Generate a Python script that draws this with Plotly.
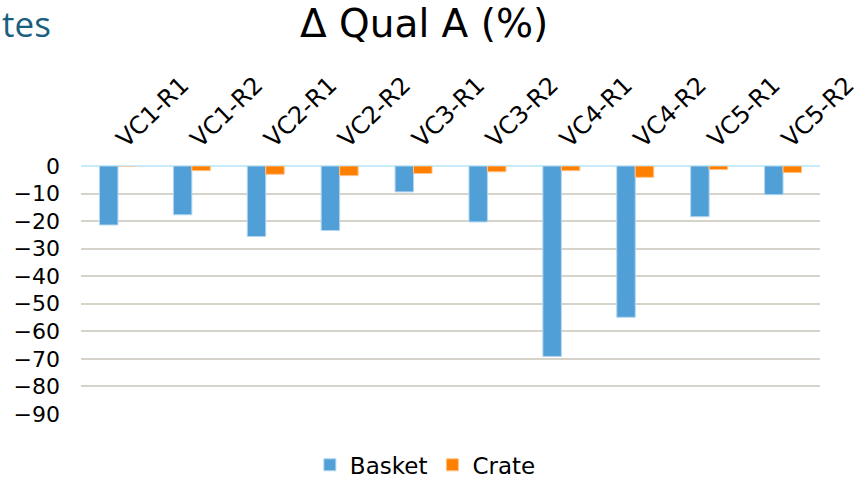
import plotly.graph_objects as go

# Trial labels and change in quality A (%) by storage type
categories = ["VC1-R1", "VC1-R2", "VC2-R1", "VC2-R2", "VC3-R1",
              "VC3-R2", "VC4-R1", "VC4-R2", "VC5-R1", "VC5-R2"]
basket = [-21.4, -17.7, -25.6, -23.4, -9.4, -20.3, -69.1, -54.9, -18.4, -10.4]
crate = [0.0, -1.7, -3.0, -3.5, -2.7, -2.1, -1.7, -4.1, -1.3, -2.4]
y_ticks = [0, -10, -20, -30, -40, -50, -60, -70, -80, -90]

BLUE = "#519fd7"
ORANGE = "#ff7f00"
FONT = "DejaVu Sans"

fig = go.Figure()
fig.add_trace(go.Bar(
    name="Basket", x=categories, y=basket,
    marker=dict(color=BLUE, line=dict(color="#b3d6f0", width=1)),
))
fig.add_trace(go.Bar(
    name="Crate", x=categories, y=crate,
    marker=dict(color=ORANGE, line=dict(color="#ffc48a", width=1)),
))

fig.update_layout(
    width=864, height=478,
    margin=dict(l=81, r=44, t=166, b=64, autoexpand=False),
    paper_bgcolor="white", plot_bgcolor="white",
    barmode="group", bargap=0.5, bargroupgap=0,
    font=dict(family=FONT, size=22, color="#000000"),
    showlegend=True,
    legend=dict(
        orientation="h", xref="paper", x=0.466, xanchor="center",
        y=-0.205, yanchor="middle", font=dict(size=23, family=FONT),
        itemwidth=30, traceorder="normal", tracegroupgap=0,
    ),
    xaxis=dict(
        type="category", side="top", tickangle=-44,
        showgrid=False, showline=False, ticks="",
        tickfont=dict(size=24, family=FONT), ticklabelstandoff=8,
    ),
    yaxis=dict(
        range=[-90, 0], tickvals=y_ticks, ticks="",
        showgrid=True, gridcolor="#d6d3cb", gridwidth=1.5,
        zeroline=True, zerolinecolor="#c8ebfa", zerolinewidth=2,
        tickfont=dict(size=22, family=FONT), ticklabelstandoff=20,
    ),
    annotations=[
        dict(text="Δ Qual A (%)", xref="paper", yref="paper",
             x=(424 - 81) / 739, y=1 + (166 - 23) / 248,
             xanchor="center", yanchor="middle", showarrow=False,
             font=dict(family=FONT, size=39, color="#000000")),
        dict(text="tes", xref="paper", yref="paper",
             x=-81 / 739, y=1 + (166 - 23) / 248,
             xanchor="left", yanchor="middle", showarrow=False,
             font=dict(family="Open Sans", size=35, color="#1a5e80")),
    ],
)

fig.write_html("out.html")
